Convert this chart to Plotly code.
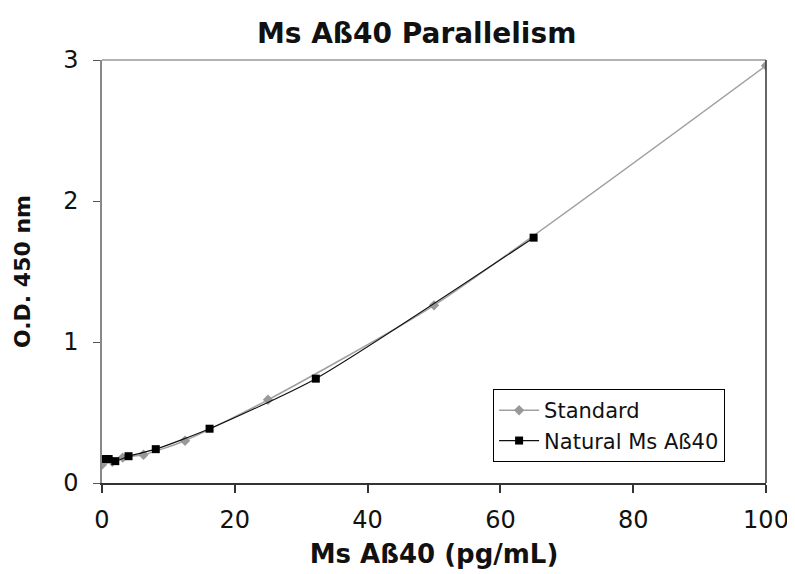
import plotly.graph_objects as go

std_x = [0, 1.5625, 3.125, 6.25, 12.5, 25, 50, 100]
std_y = [0.13, 0.15, 0.18, 0.20, 0.30, 0.59, 1.26, 2.96]

nat_x = [0.5, 1.0, 2.0, 4.0, 8.1, 16.2, 32.2, 65.0]
nat_y = [0.17, 0.17, 0.155, 0.19, 0.24, 0.385, 0.74, 1.74]

x_ticks = [0, 20, 40, 60, 80, 100]
y_ticks = [0, 1, 2, 3]

font_family = "DejaVu Sans, Liberation Sans, Arial, sans-serif"

fig = go.Figure()
fig.add_trace(go.Scatter(
    x=std_x, y=std_y, name="Standard", mode="lines+markers",
    line=dict(color="#a0a0a0", width=1.5, shape="spline", smoothing=0.6),
    marker=dict(symbol="diamond", size=8, color="#999999"),
))
fig.add_trace(go.Scatter(
    x=nat_x, y=nat_y, name="Natural Ms A\u00df40", mode="lines+markers",
    line=dict(color="#111111", width=1.2, shape="spline", smoothing=0.6),
    marker=dict(symbol="square", size=8, color="#000000"),
))

fig.update_layout(
    width=795, height=574,
    margin=dict(l=94, r=37, t=52, b=99, autoexpand=False),
    paper_bgcolor="white", plot_bgcolor="white",
    font=dict(family=font_family, color="#111111"),
    title=dict(text="<b>Ms A\u00df40 Parallelism</b>", x=0.514, xanchor="center",
               y=0.956, yanchor="middle", font=dict(size=28, color="#111111")),
    showlegend=True,
    legend=dict(x=0.589, y=0.222, xanchor="left", yanchor="top",
                bgcolor="white", bordercolor="#000000", borderwidth=1,
                font=dict(size=21, color="#111111"), tracegroupgap=0,
                itemwidth=40),
    xaxis=dict(range=[0, 100], tickvals=x_ticks, showgrid=False, zeroline=False,
               showline=True, linecolor="#333333", linewidth=1.5, automargin=False,
               ticks="outside", ticklen=8, tickcolor="#333333", tickwidth=1.5,
               tickfont=dict(size=24), ticklabelstandoff=6,
               title=dict(text="<b>Ms A\u00df40 (pg/mL)</b>", font=dict(size=26), standoff=12)),
    yaxis=dict(range=[0, 3], tickvals=y_ticks, showgrid=False, zeroline=False,
               showline=True, linecolor="#888888", linewidth=1.5, automargin=False,
               ticks="outside", ticklen=7, tickcolor="#555555", tickwidth=1.2,
               tickfont=dict(size=24), ticklabelstandoff=10,
               title=dict(text="<b>O.D. 450 nm</b>", font=dict(size=22), standoff=26)),
    shapes=[
        dict(type="line", xref="paper", yref="paper", x0=0, x1=1, y0=1, y1=1,
             line=dict(color="#999999", width=1.5)),
        dict(type="line", xref="paper", yref="paper", x0=1, x1=1, y0=0, y1=1,
             line=dict(color="#333333", width=1.5)),
    ],
)

fig.write_html("out.html")
